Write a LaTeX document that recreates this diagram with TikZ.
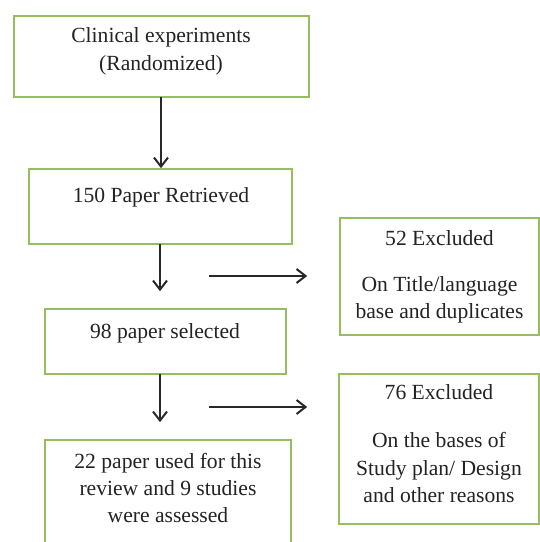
\documentclass[tikz,border=0pt]{standalone}
\usepackage{fontspec}
\setmainfont{Liberation Serif}
\usetikzlibrary{arrows.meta}
\definecolor{boxgreen}{RGB}{150,190,95}
\definecolor{arrowgray}{RGB}{40,40,40}
\definecolor{txtgray}{RGB}{35,35,35}
\begin{document}
\begin{tikzpicture}[x=1pt,y=-1pt,
  flowbox/.style={draw=boxgreen,line width=1.6pt,fill=white,inner sep=0pt,rectangle},
  txt/.style={anchor=base,inner sep=0pt,text=txtgray,font=\fontsize{21.6}{26}\selectfont},
  arr/.style={draw=arrowgray,line width=2pt,-{Straight Barb[length=9pt,width=14pt,line width=2pt]}}]
\clip (0,0) rectangle (540,542);
\fill[white] (0,0) rectangle (540,542);
% boxes
\node[flowbox,minimum width=295pt,minimum height=81pt] (b1) at (161.5,56.5) {};
\node[flowbox,minimum width=263pt,minimum height=75pt] (b2) at (160.5,206.5) {};
\node[flowbox,minimum width=241pt,minimum height=65pt] (b3) at (165.5,341.5) {};
\node[flowbox,minimum width=246pt,minimum height=130pt] (b4) at (168,505) {};
\node[flowbox,minimum width=199pt,minimum height=117pt] (b5) at (439.5,276.5) {};
\node[flowbox,minimum width=200pt,minimum height=150pt] (b6) at (439,449) {};
% texts
\node[txt] (t1a) at (161,42) {Clinical experiments};
\node[txt] (t1b) at (161,70) {(Randomized)};
\node[txt] (t2) at (161,202) {150 Paper Retrieved};
\node[txt] (t3) at (165,338) {98 paper selected};
\node[txt] (t4a) at (168,468) {22 paper used for this};
\node[txt] (t4b) at (168,495) {review and 9 studies};
\node[txt] (t4c) at (168,522) {were assessed};
\node[txt] (t5a) at (439.5,245) {52 Excluded};
\node[txt] (t5b) at (439.5,291) {On Title/language};
\node[txt] (t5c) at (439.5,318) {base and duplicates};
\node[txt] (t6a) at (439,399) {76 Excluded};
\node[txt] (t6b) at (439,447) {On the bases of};
\node[txt] (t6c) at (439,475) {Study plan/ Design};
\node[txt] (t6d) at (439,502) {and other reasons};
% connector start points
\coordinate (v1) at (161,97);
\coordinate (v2) at (160,244);
\coordinate (v3) at (160,374);
\coordinate (h1) at (209,276);
\coordinate (h2) at (209,407);
% connectors
\draw[arr] (v1) -- (v1 |- b2.north);
\draw[arr,shorten >=17pt] (v2) -- (v2 |- b3.north);
\draw[arr,shorten >=17pt] (v3) -- (v3 |- b4.north);
\draw[arr,shorten >=32pt] (h1) -- (h1 -| b5.west);
\draw[arr,shorten >=31pt] (h2) -- (h2 -| b6.west);
\end{tikzpicture}
\end{document}
